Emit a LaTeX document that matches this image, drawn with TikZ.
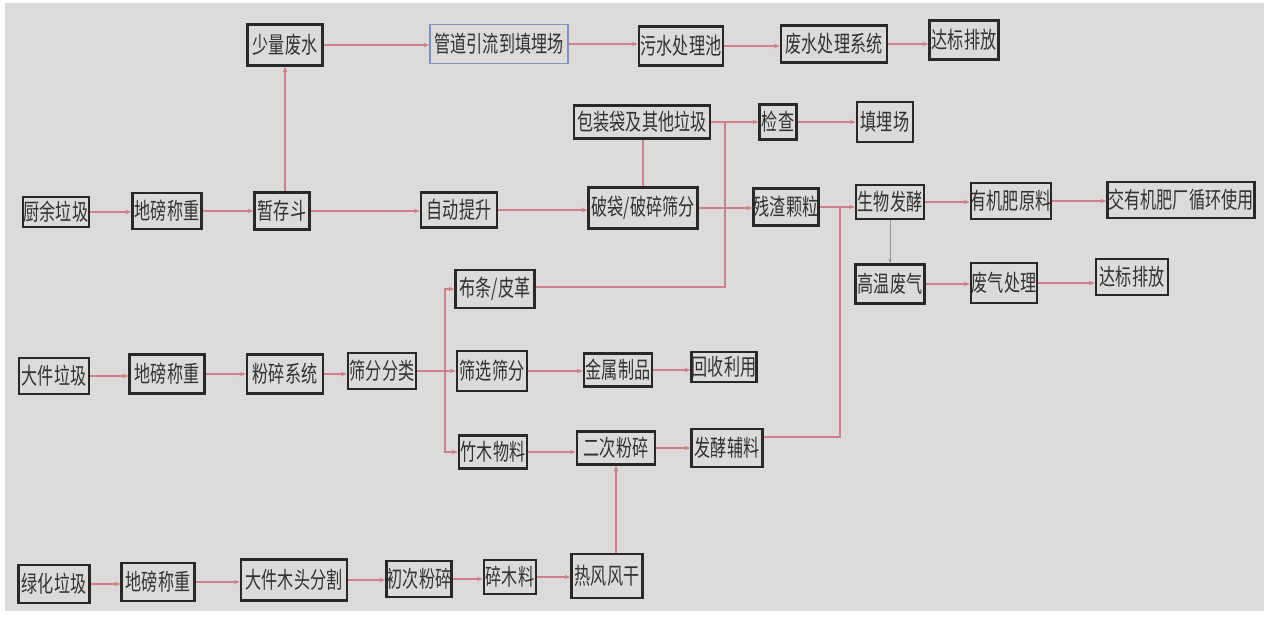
\documentclass[tikz,border=0pt]{standalone}
\usepackage{fontspec}
\newfontfamily\cjk[FakeStretch=0.7]{Noto Sans CJK SC}
\usetikzlibrary{arrows.meta}
\definecolor{bg}{RGB}{221,219,217}
\definecolor{ln}{RGB}{206,128,140}
\definecolor{bd}{RGB}{40,40,40}
\definecolor{tx}{RGB}{50,50,50}
\definecolor{bl}{RGB}{125,145,200}
\definecolor{gl}{RGB}{150,150,150}
\tikzset{
  box/.style={draw=bd, line width=2.2pt, fill=bg, inner sep=0pt, text=tx,
    font=\cjk\fontsize{23}{25}\selectfont},
  flow/.style={draw=ln, line width=1.3pt, -{Stealth[length=6pt,width=4.5pt]}},
  plain/.style={draw=ln, line width=1.3pt},
  thinflow/.style={draw=gl, line width=0.7pt, -{Stealth[length=5pt,width=3.5pt]}}
}
\newcommand{\bx}[6]{\node[box, minimum width=#4pt, minimum height=#5pt] (#1) at (#2,#3) {#6};}
\newcommand{\hc}[2]{\draw[flow] (#1.east) -- (#1.east -| #2.west);}
\begin{document}
\begin{tikzpicture}[x=1pt,y=-1pt]
\useasboundingbox (0,0) rectangle (1266,617);
\fill[white] (0,0) rectangle (1266,617);
\fill[bg] (5,3) rectangle (1264,611);
% row 1
\bx{sl}{285}{45}{75}{41}{少量废水}
\node[box, draw=bl, line width=1.2pt, minimum width=138pt, minimum height=39pt] (gd) at (499,44) {管道引流到填埋场};
\bx{ws}{681}{46}{84}{39}{污水处理池}
\bx{fx}{834}{44}{106}{37}{废水处理系统}
\bx{dba}{964}{40}{69}{39}{达标排放}
% row 2
\bx{bz}{642}{122}{136}{33}{包装袋及其他垃圾}
\bx{jc}{778}{122}{37}{35}{检查}
\bx{tm}{885}{122}{56}{40}{填埋场}
% row 3
\bx{cy}{56}{212}{66}{30}{厨余垃圾}
\bx{dpa}{167}{211}{69}{36}{地磅称重}
\bx{zc}{282}{211}{55}{37}{暂存斗}
\bx{zd}{459}{210}{76}{35}{自动提升}
\bx{pd}{643}{208}{109}{41}{破袋/破碎筛分}
\bx{cz}{786}{207}{65}{37}{残渣颗粒}
\bx{sw}{890}{202}{68}{34}{生物发酵}
\bx{yj}{1011}{201}{80}{36}{有机肥原料}
\bx{jy}{1181}{200}{147}{36}{交有机肥厂循环使用}
% row 4
\bx{gw}{890}{284}{69}{39}{高温废气}
\bx{fq}{1004}{283}{66}{40}{废气处理}
\bx{dbb}{1132}{277}{72}{36}{达标排放}
\bx{bt}{495}{289}{79}{38}{布条/皮革}
% row 5
\bx{dj}{54}{376}{70}{36}{大件垃圾}
\bx{dpb}{167}{374}{75}{39}{地磅称重}
\bx{fs}{285}{374}{76}{39}{粉碎系统}
\bx{sf}{382}{371}{68}{36}{筛分分类}
\bx{sx}{492}{371}{70}{40}{筛选筛分}
\bx{js}{618}{370}{68}{33}{金属制品}
\bx{hs}{724}{367}{65}{30}{回收利用}
% row 6
\bx{zm}{493}{452}{68}{33}{竹木物料}
\bx{ec}{616}{448}{78}{33}{二次粉碎}
\bx{fj}{727}{448}{71}{38}{发酵辅料}
% row 7
\bx{lh}{54}{584}{71}{38}{绿化垃圾}
\bx{dpc}{158}{582}{73}{38}{地磅称重}
\bx{dm}{294}{580}{106}{41}{大件木头分割}
\bx{cc}{419}{579}{65}{36}{初次粉碎}
\bx{sm}{510}{577}{52}{34}{碎木料}
\bx{rf}{607}{576}{71}{44}{热风风干}
% junctions
\coordinate (j1) at (725,122);
\coordinate (j2) at (445,371);
\coordinate (j3) at (840,207);
% connectors row 1
\hc{sl}{gd}
\hc{gd}{ws}
\hc{ws}{fx}
\hc{fx}{dba}
\draw[flow] (zc.north -| sl.south) -- (sl.south);
% row 3
\hc{cy}{dpa}
\hc{dpa}{zc}
\hc{zc}{zd}
\hc{zd}{pd}
\hc{pd}{cz}
\hc{cz}{sw}
\hc{sw}{yj}
\hc{yj}{jy}
% row 2
\draw[plain] (pd.north) -- (pd.north |- bz.south);
\hc{bz}{jc}
\hc{jc}{tm}
\draw[plain] ([yshift=2pt]bt.east) -| (j1);
% gas
\draw[thinflow] (sw.south) -- (gw.north);
\hc{gw}{fq}
\hc{fq}{dbb}
% row 5
\hc{dj}{dpb}
\hc{dpb}{fs}
\hc{fs}{sf}
\hc{sf}{sx}
\hc{sx}{js}
\hc{js}{hs}
\draw[flow] (j2) |- (bt.west);
\draw[flow] (j2) |- (zm.west);
% row 6
\hc{zm}{ec}
\hc{ec}{fj}
\draw[plain] ([yshift=11pt]fj.east) -| (j3);
\draw[flow] (rf.north -| ec.south) -- (ec.south);
% row 7
\hc{lh}{dpc}
\hc{dpc}{dm}
\hc{dm}{cc}
\hc{cc}{sm}
\hc{sm}{rf}
\end{tikzpicture}
\end{document}
